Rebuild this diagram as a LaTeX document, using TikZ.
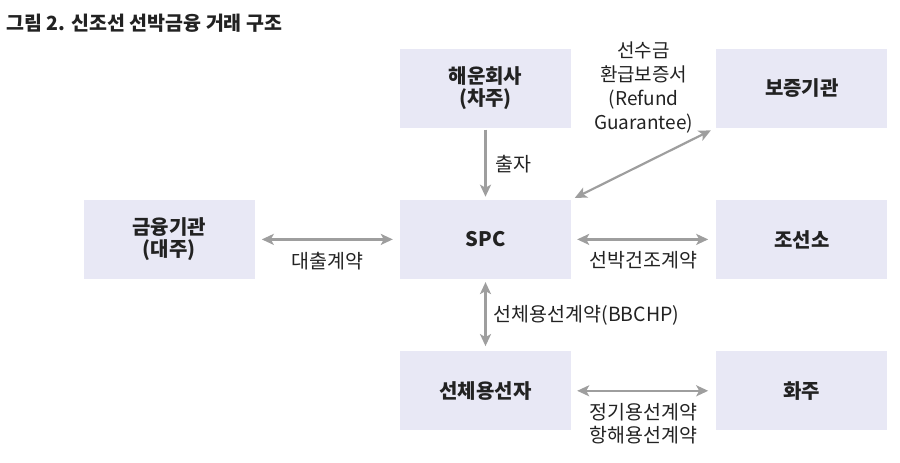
\documentclass[tikz,border=0pt]{standalone}
\usepackage{fontspec}
\setmainfont{Noto Sans CJK KR}
\usetikzlibrary{positioning,calc,arrows.meta}
\definecolor{boxfill}{HTML}{E8E8F5}
\definecolor{arrowgray}{HTML}{9E9E9E}
\definecolor{textdark}{HTML}{222222}
\tikzset{
  party/.style={fill=boxfill, minimum width=171pt, minimum height=79pt,
                align=center, font=\bfseries\fontsize{20}{22}\selectfont, text=textdark},
  deal/.style={font=\fontsize{19.5}{23.5}\selectfont, text=textdark, align=center},
  link/.style={draw=arrowgray, line width=2.2pt,
               {Stealth[length=12pt,width=11pt,inset=3pt]}-{Stealth[length=12pt,width=11pt,inset=3pt]}},
  feed/.style={draw=arrowgray, line width=2.2pt, -{Stealth[length=12pt,width=11pt,inset=3pt]}}
}
\begin{document}
\begin{tikzpicture}[x=1pt, y=-1pt, node distance=72pt and 145pt]
  \useasboundingbox (0,0) rectangle (900,463);
  \node[anchor=west, font=\bfseries\fontsize{19.5}{21}\selectfont, text=textdark] (title) at (3,23)
    {그림 2. 신조선 선박금융 거래 구조};
  \node[party] (haeun) at (485.5,88) {해운회사\\(차주)};
  \node[party, right=of haeun] (bojeung) {보증기관};
  \node[party, below=of haeun] (spc) {SPC};
  \node[party, left=of spc] (geumyung) {금융기관\\(대주)};
  \node[party, right=of spc] (joseon) {조선소};
  \node[party, below=of spc] (seonche) {선체용선자};
  \node[party, right=of seonche] (hwaju) {화주};
  \node[deal, font=\fontsize{19}{24}\selectfont] (refund) at ($(haeun)!.5!(bojeung)$)
    {선수금\\환급보증서\\(Refund\\Guarantee)};
  \draw[feed, shorten <=2pt, shorten >=3pt] (haeun) -- (spc)
    node[deal, midway, right=6pt] (chulja) {출자};
  \draw[link, shorten <=4pt, shorten >=6pt] (spc.north east) -- (bojeung.south west);
  \draw[link, shorten <=7pt, shorten >=7pt] (geumyung) -- (spc)
    node[deal, midway, below=8pt] (daechul) {대출계약};
  \draw[link, shorten <=6pt, shorten >=8pt] (spc) -- (joseon)
    node[deal, midway, below=8pt] (geonjo) {선박건조계약};
  \draw[link, shorten <=3pt, shorten >=5pt] (spc) -- (seonche)
    node[deal, midway, right=4pt] (bbchp) {선체용선계약(BBCHP)};
  \draw[link, shorten <=6pt, shorten >=8pt] (seonche) -- (hwaju)
    node[deal, midway, below=8pt] (yongseon) {정기용선계약\\항해용선계약};
\end{tikzpicture}
\end{document}
